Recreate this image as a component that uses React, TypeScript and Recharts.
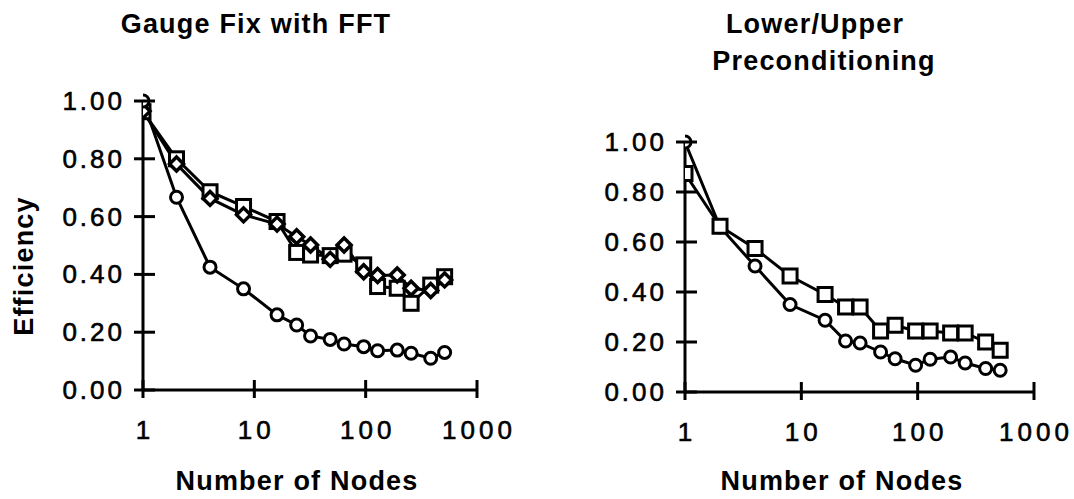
import React from "react";
import { LineChart, Line, XAxis, YAxis } from "recharts";

// number of nodes (x values, shared by every series)
const nodes = [1, 2, 4, 8, 16, 24, 32, 48, 64, 96, 128, 192, 256, 384, 512];

// Gauge Fix with FFT
const fftCircle = [1.0, 0.667, 0.425, 0.35, 0.26, 0.225, 0.187, 0.175, 0.159, 0.15, 0.136, 0.138, 0.127, 0.11, 0.13];
const fftSquare = [0.963, 0.8, 0.686, 0.635, 0.583, 0.476, 0.467, 0.465, 0.47, 0.433, 0.358, 0.352, 0.3, 0.363, 0.392];
const fftDiamond = [0.965, 0.782, 0.663, 0.606, 0.574, 0.53, 0.502, 0.452, 0.502, 0.409, 0.396, 0.398, 0.352, 0.344, 0.381];

// Lower/Upper Preconditioning
const luCircle = [1.0, 0.66, 0.504, 0.35, 0.287, 0.204, 0.196, 0.16, 0.133, 0.107, 0.131, 0.14, 0.116, 0.094, 0.087];
const luSquare = [0.874, 0.663, 0.574, 0.464, 0.39, 0.34, 0.34, 0.244, 0.267, 0.244, 0.244, 0.236, 0.236, 0.2, 0.167];

const xTicks = [1, 10, 100, 1000];
const yTicks = [0, 0.2, 0.4, 0.6, 0.8, 1.0];

const FONT = "'Liberation Sans', Arial, sans-serif";
const SW = 3;

const fftData = nodes.map((n, i) => ({
  nodes: n,
  circle: fftCircle[i],
  square: fftSquare[i],
  diamond: fftDiamond[i],
}));

const luData = nodes.map((n, i) => ({
  nodes: n,
  circle: luCircle[i],
  square: luSquare[i],
}));

function marker(shape: string) {
  return (props: any) => {
    const { cx, cy, index } = props;
    if (cx == null || cy == null) return <g key={index} />;
    if (shape === "circle") {
      return <circle key={index} cx={cx} cy={cy} r={6} fill="#fff" stroke="#000" strokeWidth={SW} />;
    }
    if (shape === "square") {
      return <rect key={index} x={cx - 7} y={cy - 7} width={14} height={14} fill="#fff" stroke="#000" strokeWidth={SW} />;
    }
    const d = 7;
    return (
      <polygon
        key={index}
        points={`${cx},${cy - d} ${cx + d},${cy} ${cx},${cy + d} ${cx - d},${cy}`}
        fill="#fff"
        stroke="#000"
        strokeWidth={SW + 0.5}
      />
    );
  };
}

const tickText = { fontSize: 26, fontFamily: FONT, fill: "#000", stroke: "#000", strokeWidth: 0.6 };

const XTick = (props: any) => {
  const { x, y, payload } = props;
  return (
    <g>
      <line x1={x} x2={x} y1={y - 10} y2={y + 8} stroke="#000" strokeWidth={SW} />
      <text x={x + 2} y={y + 49} textAnchor="middle" letterSpacing={4} {...tickText}>
        {payload.value}
      </text>
    </g>
  );
};

const YTick = (props: any) => {
  const { x, y, payload } = props;
  return (
    <g>
      <line x1={x - 9} x2={x + 12} y1={y} y2={y} stroke="#000" strokeWidth={SW} />
      <text x={x - 18} y={y + 9} textAnchor="end" letterSpacing={3} {...tickText}>
        {payload.value.toFixed(2)}
      </text>
    </g>
  );
};

function Panel({ data, series, width, margin }: any) {
  return (
    <LineChart width={width} height={499} data={data} margin={margin}>
      <XAxis
        dataKey="nodes"
        type="number"
        scale="log"
        domain={[1, 1000]}
        ticks={xTicks}
        allowDataOverflow
        height={30}
        tickSize={0}
        tickMargin={0}
        tickLine={false}
        tick={<XTick />}
        axisLine={{ stroke: "#000", strokeWidth: SW }}
        interval={0}
      />
      <YAxis
        type="number"
        domain={[0, 1]}
        ticks={yTicks}
        width={60}
        tickSize={0}
        tickMargin={0}
        tickLine={false}
        tick={<YTick />}
        axisLine={{ stroke: "#000", strokeWidth: SW }}
        interval={0}
      />
      {series.map((s: string) => (
        <Line
          key={s}
          dataKey={s}
          type="linear"
          stroke="#000"
          strokeWidth={SW}
          dot={marker(s)}
          activeDot={false}
          isAnimationActive={false}
        />
      ))}
    </LineChart>
  );
}

const boldText = { fontFamily: FONT, fontWeight: 700, fontSize: 27, letterSpacing: 1.2, fill: "#000" };

export default function App() {
  return (
    <div style={{ position: "absolute", left: 0, top: 0, width: 1074, height: 499, background: "#fff" }}>
      <div style={{ position: "absolute", left: 0, top: 0 }}>
        <Panel
          data={fftData}
          series={["square", "diamond", "circle"]}
          width={540}
          margin={{ top: 101, right: 63, bottom: 79, left: 83 }}
        />
      </div>
      <div style={{ position: "absolute", left: 540, top: 0 }}>
        <Panel
          data={luData}
          series={["circle", "square"]}
          width={534}
          margin={{ top: 142, right: 40, bottom: 77, left: 85 }}
        />
      </div>
      <svg width={1074} height={499} style={{ position: "absolute", left: 0, top: 0, pointerEvents: "none" }}>
        <text x={256} y={33} textAnchor="middle" {...boldText}>Gauge Fix with FFT</text>
        <text x={815} y={33} textAnchor="middle" {...boldText}>Lower/Upper</text>
        <text x={824} y={70} textAnchor="middle" {...boldText}>Preconditioning</text>
        <text x={33} y={266} textAnchor="middle" transform="rotate(-90, 33, 266)" {...boldText}>Efficiency</text>
        <text x={297} y={490} textAnchor="middle" {...boldText}>Number of Nodes</text>
        <text x={842} y={490} textAnchor="middle" {...boldText}>Number of Nodes</text>
      </svg>
    </div>
  );
}
